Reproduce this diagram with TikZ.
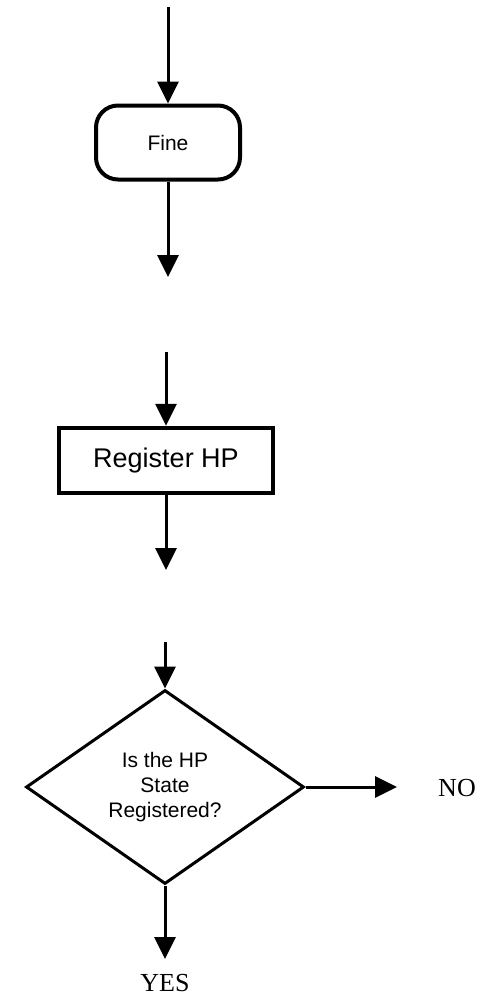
\documentclass[tikz,border=0pt]{standalone}
\usepackage{fontspec}
\setmainfont{Liberation Serif}
\setsansfont{Liberation Sans}
\usetikzlibrary{arrows.meta,shapes.geometric}
\begin{document}
\begin{tikzpicture}[x=1pt,y=-1pt,
  flow/.style={line width=3pt,-{Triangle[length=22pt,width=21pt]}},
  terminal/.style={draw,line width=4pt,rounded corners=22pt,minimum width=144pt,
    minimum height=74pt,inner sep=0pt,font=\sffamily\fontsize{21}{25}\selectfont},
  process/.style={draw,line width=4.5pt,minimum width=214pt,minimum height=65pt,
    inner sep=0pt,font=\sffamily\fontsize{27}{32}\selectfont},
  decision/.style={draw,diamond,line width=3pt,minimum width=278pt,minimum height=194pt,
    inner sep=0pt,align=center,font=\sffamily\fontsize{21}{25}\selectfont},
  outcome/.style={font=\fontsize{26}{30}\selectfont}]
\useasboundingbox (0,0) rectangle (480,996);

% terminal step
\coordinate (in1) at (168,7);
\node[terminal] (fine) at (168,142.5) {Fine};
\coordinate (out1) at (168,277);
\draw[flow] (in1) -- (fine);
\draw[flow] (fine) -- (out1);

% process step
\coordinate (in2) at (166,352);
\node[process] (reg) at (166,460.5) {Register HP};
\coordinate (out2) at (166,570);
\draw[flow] (in2) -- (reg);
\draw[flow] (reg) -- (out2);

% decision
\coordinate (in3) at (165,642);
\node[decision] (dec) at (165,787) {Is the HP\\State\\Registered?};
\coordinate (noend) at (397,787);
\coordinate (yesend) at (165,959);
\draw[flow] (in3) -- (dec.north);
\draw[flow] (dec.east) -- (noend);
\draw[flow] (dec.south) -- (yesend);
\node[outcome] (no) at (457,788) {NO};
\node[outcome] (yes) at (165,983) {YES};
\end{tikzpicture}
\end{document}
